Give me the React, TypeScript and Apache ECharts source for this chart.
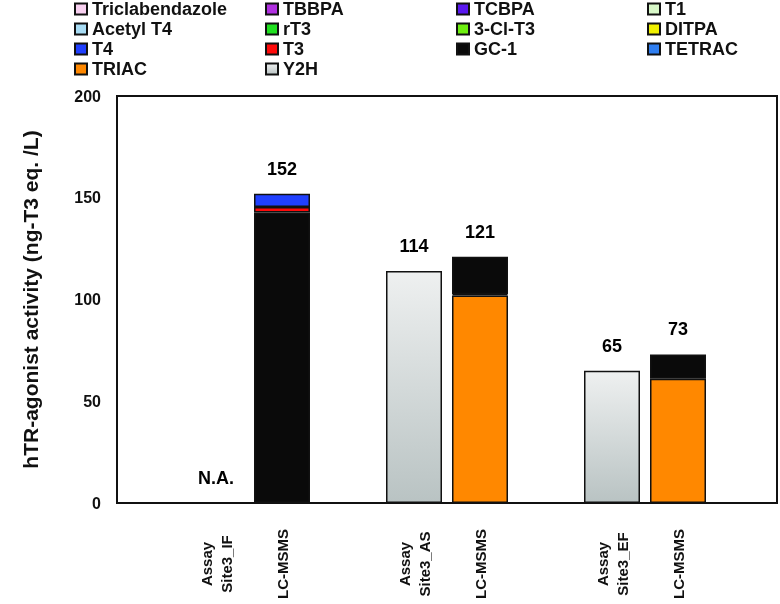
import React, { useEffect, useRef } from "react";
import * as echarts from "echarts";

// 10 category slots; blank slots act as gaps between sample groups
const categories = ["", "Assay\nSite3_IF", "LC-MSMS", "", "Assay\nSite3_AS", "LC-MSMS", "", "Assay\nSite3_EF", "LC-MSMS", ""];
const naSlots = [1];

const Y2H = [null, null, null, null, 114, null, null, 65, null, null];
const TRIAC = [null, null, null, null, null, 102, null, null, 61, null];
const TETRAC = [null, null, null, null, null, 0.6, null, null, null, null];
const GC1 = [null, null, 142.7, null, null, 18.4, null, null, 12, null];
const T3 = [null, null, 2.8, null, null, null, null, null, null, null];
const T4 = [null, null, 6.5, null, null, null, null, null, null, null];
const none = [null, null, null, null, null, null, null, null, null, null];

const yTicks = { min: 0, max: 200, interval: 50 };

const legendCols = [
  ["Triclabendazole", "Acetyl T4", "T4", "TRIAC"],
  ["TBBPA", "rT3", "T3", "Y2H"],
  ["TCBPA", "3-Cl-T3", "GC-1"],
  ["T1", "DITPA", "TETRAC"],
];

const FONT = "'Liberation Sans', Arial, Helvetica, sans-serif";

export default function App() {
  const ref = useRef<HTMLDivElement>(null);
  useEffect(() => {
    if (!ref.current) return;
    const chart = echarts.init(ref.current, null, { renderer: "svg" });
    const border = { borderColor: "#111", borderWidth: 1.5 };
    const y2hGrad = new echarts.graphic.LinearGradient(0, 0, 0, 1, [
      { offset: 0, color: "#eef0f0" },
      { offset: 1, color: "#b9c3c3" },
    ]);
    const mk = (name: string, data: any[], color: any) => ({
      name,
      type: "bar",
      stack: "s",
      data,
      barWidth: 56,
      itemStyle: { color, ...border },
    });
    const series: any[] = [
      mk("Y2H", Y2H, y2hGrad),
      mk("TRIAC", TRIAC, "#ff8800"),
      mk("TETRAC", TETRAC, "#2f7ef0"),
      mk("GC-1", GC1, "#0a0a0a"),
      mk("T3", T3, "#ff0a0a"),
      mk("T4", T4, "#2040ff"),
      mk("Triclabendazole", none, "#f8d0f0"),
      mk("Acetyl T4", none, "#a8dcf4"),
      mk("TBBPA", none, "#b030e0"),
      mk("rT3", none, "#20e020"),
      mk("TCBPA", none, "#5a18f0"),
      mk("3-Cl-T3", none, "#6ef010"),
      mk("T1", none, "#d8f8c8"),
      mk("DITPA", none, "#f0f000"),
    ];
    const stacks = [Y2H, TRIAC, TETRAC, GC1, T3, T4];
    const totals = categories.map((c, i) => {
      if (naSlots.includes(i)) return { value: 0, label: "N.A." };
      let s = 0;
      let any = false;
      stacks.forEach((a) => {
        if (a[i] != null) {
          s += a[i] as number;
          any = true;
        }
      });
      return any ? { value: s, label: String(Math.round(s)) } : null;
    });
    series.push({
      name: "totals",
      type: "scatter",
      symbolSize: 0,
      itemStyle: { color: "#000" },
      silent: true,
      z: 10,
      data: totals.map((t) => (t ? t.value : null)),
      label: {
        show: true,
        position: "top",
        distance: 16,
        fontSize: 18,
        fontWeight: "bold",
        color: "#000",
        opacity: 1,
        fontFamily: FONT,
        formatter: (p: any) => (totals[p.dataIndex] ? totals[p.dataIndex]!.label : ""),
      },
    });
    const colLeft = [74, 265, 456, 647];
    chart.setOption({
      animation: false,
      textStyle: { fontFamily: FONT },
      legend: legendCols.map((col, k) => ({
        orient: "vertical",
        left: colLeft[k],
        top: 0,
        itemGap: 2,
        itemWidth: 12,
        itemHeight: 11,
        icon: "rect",
        padding: 0,
        selectedMode: false,
        data: col,
        textStyle: { fontSize: 18, fontWeight: "bold", color: "#111", fontFamily: FONT },
      })),
      grid: {
        left: 117,
        right: 3,
        top: 96,
        bottom: 101,
        show: true,
        borderColor: "#111",
        borderWidth: 2,
      },
      xAxis: {
        type: "category",
        data: categories,
        axisLine: { lineStyle: { color: "#111", width: 2 } },
        axisTick: { show: false },
        axisLabel: {
          interval: 0,
          rotate: 90,
          align: "center",
          verticalAlign: "middle",
          margin: 61,
          fontSize: 15,
          lineHeight: 20,
          fontWeight: "bold",
          color: "#111",
          fontFamily: FONT,
        },
      },
      yAxis: {
        type: "value",
        ...yTicks,
        name: "hTR-agonist activity (ng-T3 eq. /L)",
        nameLocation: "middle",
        nameGap: 76,
        nameTextStyle: { fontSize: 21, fontWeight: "bold", color: "#111", fontFamily: FONT },
        axisLine: { show: true, lineStyle: { color: "#111", width: 2 } },
        axisTick: { show: false },
        splitLine: { show: false },
        axisLabel: { fontSize: 16, fontWeight: "bold", color: "#111", margin: 16, fontFamily: FONT },
      },
      series,
    });
    return () => chart.dispose();
  }, []);
  return (
    <div
      ref={ref}
      style={{ position: "fixed", left: 0, top: 0, width: 780, height: 604 }}
    />
  );
}
